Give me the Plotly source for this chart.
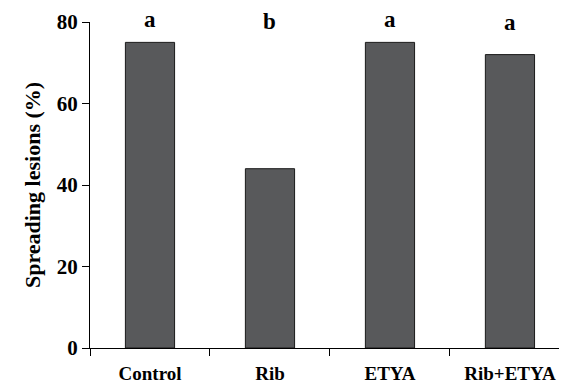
import plotly.graph_objects as go

categories = ["Control", "Rib", "ETYA", "Rib+ETYA"]
spreading = [75, 44, 75, 72]
letters = ["a", "b", "a", "a"]
y_ticks = [0, 20, 40, 60, 80]

FONT = "Liberation Serif, Times New Roman, serif"
PX_PER_UNIT = 326 / 80

fig = go.Figure()
fig.add_trace(go.Bar(
    x=categories, y=spreading, width=0.41,
    marker=dict(color="#58595b", line=dict(color="#1a1a1a", width=1)),
    showlegend=False,
))

for c, v, l in zip(categories, spreading, letters):
    target = max(v + 5.6, 80)
    fig.add_annotation(x=c, y=v, text=f"<b>{l}</b>", showarrow=False,
                       font=dict(family=FONT, size=23, color="black"),
                       yanchor="middle", yshift=(target - v) * PX_PER_UNIT)

fig.update_layout(
    width=567, height=384,
    margin=dict(l=82, r=0, t=14, b=44),
    plot_bgcolor="white", paper_bgcolor="white",
    font=dict(family=FONT, color="black"),
)
fig.update_xaxes(
    type="category", range=[-0.5, 3.542], tickson="boundaries",
    showline=True, linecolor="black", linewidth=1,
    ticks="outside", ticklen=7, tickcolor="black",
    tickfont=dict(family=FONT, size=19, color="black"),
    tickprefix="<b>", ticksuffix="</b>", ticklabelstandoff=8,
    showgrid=False,
)
fig.update_yaxes(
    range=[0, 80], tickvals=y_ticks, ticktext=[f"<b>{t}</b>" for t in y_ticks],
    showline=True, linecolor="black", linewidth=1,
    ticks="outside", ticklen=7, tickcolor="black",
    tickfont=dict(family=FONT, size=21, color="black"),
    showgrid=False, zeroline=False,
    title=dict(text="<b>Spreading lesions (%)</b>", font=dict(family=FONT, size=22, color="black"), standoff=10),
)

fig.write_html("out.html")
